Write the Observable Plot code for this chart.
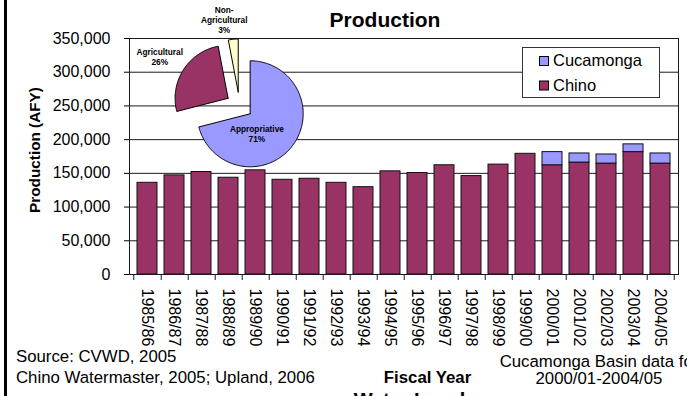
<!DOCTYPE html>
<html><head><meta charset="utf-8">
<script src="https://cdn.jsdelivr.net/npm/d3@7"></script>
<script src="https://cdn.jsdelivr.net/npm/@observablehq/plot@0.6"></script>
<style>
html,body{margin:0;padding:0;background:#fff;}
#wrap{position:relative;width:687px;height:396px;overflow:hidden;font-family:"Liberation Sans",Arial,sans-serif;}
#wrap > svg{position:absolute;}
</style></head><body><div id="wrap"></div>
<script>
// ---- data ----
const years = ["1985/86","1986/87","1987/88","1988/89","1989/90","1990/91","1991/92","1992/93","1993/94","1994/95","1995/96","1996/97","1997/98","1998/99","1999/00","2000/01","2001/02","2002/03","2003/04","2004/05"];
const chino = [136000,147000,152000,143500,154500,140500,142000,136000,129500,153000,150500,162000,146000,163000,179000,162000,166000,164500,181500,164500];
const cucamonga = [null,null,null,null,null,null,null,null,null,null,null,null,null,null,null,19500,13500,13500,11500,15000];
const seriesNames = ["Cucamonga","Chino"];
const yTicks = [0,50000,100000,150000,200000,250000,300000,350000];
const pieCategories = ["Appropriative","Agricultural","Non-Agricultural"];
const pieShares = [71,26,3];
const pieLabels = ["Appropriative\n71%","Agricultural\n26%","Non-\nAgricultural\n3%"];

// ---- layout ----
const W = 687, H = 396;
const M = {left:129, right:9, top:38, bottom:122};
const step = (W - M.left - M.right) / years.length;
const perPx = 350000 / (H - M.top - M.bottom);
const FONT = '"Liberation Sans", Arial, sans-serif';
const colors = {Chino:"#993366", Cucamonga:"#9999FF"};
const pieColors = ["#9999FF","#993366","#FFFFCC"];
const pieLayout = {cx:239.3, cy:105, size:200, R:53, explode:13.5};
// label anchor (page coords): center x, first baseline, line height
const pieLabelPos = [{x:256.7,b:131.5,lh:9.7},{x:159.5,b:54.5,lh:10.3},{x:224,b:12.3,lh:10.3}];

const rows = [];
years.forEach((y,i) => {
  rows.push({year:y, series:"Chino", value:chino[i]});
  if (cucamonga[i] != null) rows.push({year:y, series:"Cucamonga", value:cucamonga[i]});
});

const wrap = document.getElementById("wrap");

const main = Plot.plot({
  width: W, height: H,
  marginLeft: M.left, marginRight: M.right, marginTop: M.top, marginBottom: M.bottom,
  style: {fontFamily: FONT, fontSize: "16px", background: "transparent", color: "#000", overflow: "visible"},
  x: {domain: years, paddingInner: 0.27, paddingOuter: 0.135, label: null, tickSize: 0, tickPadding: 14, tickRotate: 90},
  y: {domain: [0,350000], ticks: yTicks, tickFormat: d3.format(","), label: null, tickSize: 5, tickPadding: 14},
  color: {domain: ["Chino","Cucamonga"], range: [colors.Chino, colors.Cucamonga]},
  marks: [
    Plot.ruleY(yTicks.slice(1), {stroke: "#1a1a1a", strokeWidth: 1}),
    Plot.barY(rows, {x: "year", y: "value", fill: "series", stroke: "#111", strokeWidth: 1}),
    Plot.frame({stroke: "#1a1a1a"}),
    Plot.ruleX(years, {x: d => d, y1: 0, y2: -6 * perPx, dx: step/2, stroke: "#1a1a1a"}),
    Plot.ruleX(years.slice(0,1), {x: d => d, y1: 0, y2: -6 * perPx, dx: -step/2, stroke: "#1a1a1a"})
  ]
});
main.style.left = "0px"; main.style.top = "0px";
wrap.appendChild(main);

// ---- pie ----
const arcs = d3.pie().sort(null)(pieShares);
const pieMarks = [];
arcs.forEach((a, i) => {
  const mid = (a.startAngle + a.endAngle) / 2;
  const ox = pieLayout.explode * Math.sin(mid), oy = -pieLayout.explode * Math.cos(mid);
  const pts = [{x: ox, y: oy}];
  const n = Math.max(4, Math.ceil((a.endAngle - a.startAngle) / (Math.PI/180)));
  for (let k = 0; k <= n; k++) {
    const t = a.startAngle + (a.endAngle - a.startAngle) * k / n;
    pts.push({x: ox + pieLayout.R * Math.sin(t), y: oy - pieLayout.R * Math.cos(t)});
  }
  pts.push({x: ox, y: oy});
  pieMarks.push(Plot.line(pts, {x: "x", y: "y", fill: pieColors[i], stroke: "#000", strokeWidth: 1, curve: "linear"}));
});
const labelRows = [];
pieLabels.forEach((lab, i) => {
  const p = pieLabelPos[i];
  lab.split("\n").forEach((line, j) => {
    labelRows.push({text: line, x: p.x - pieLayout.cx, y: p.b + j * p.lh - pieLayout.cy - 2.7});
  });
});
pieMarks.push(Plot.text(labelRows, {x: "x", y: "y", text: "text", fontWeight: "bold", fontSize: 8.3, fill: "#000", textAnchor: "middle"}));
const half = pieLayout.size / 2;
const pie = Plot.plot({
  width: pieLayout.size, height: pieLayout.size,
  margin: 0, marginLeft: 0, marginRight: 0, marginTop: 0, marginBottom: 0,
  style: {fontFamily: FONT, background: "transparent", overflow: "visible"},
  x: {domain: [-half, half], range: [0, pieLayout.size], axis: null},
  y: {domain: [-half, half], range: [0, pieLayout.size], axis: null},
  marks: pieMarks
});
pie.style.left = (pieLayout.cx - half) + "px";
pie.style.top = (pieLayout.cy - half) + "px";
wrap.appendChild(pie);

// ---- static texts, legend ----
const ns = "http://www.w3.org/2000/svg";
const ov = d3.create("svg").attr("width", W).attr("height", H).style("left","0px").style("top","0px")
  .style("font-family", FONT).style("overflow","hidden");
ov.append("rect").attr("x", 4).attr("y", 0).attr("width", 3).attr("height", H).attr("fill", "#000");
ov.append("text").attr("x", 385).attr("y", 27).attr("text-anchor","middle").attr("font-weight","bold").attr("font-size", 21).text("Production");
ov.append("text").attr("transform","translate(40,150) rotate(-90)").attr("text-anchor","middle").attr("font-weight","bold").attr("font-size", 15.3).text("Production (AFY)");
ov.append("text").attr("x", 16).attr("y", 361.7).attr("font-size", 16.8).text("Source: CVWD, 2005");
ov.append("text").attr("x", 16).attr("y", 383.3).attr("font-size", 16.8).text("Chino Watermaster, 2005; Upland, 2006");
ov.append("text").attr("x", 427.5).attr("y", 383.3).attr("text-anchor","middle").attr("font-weight","bold").attr("font-size", 16.8).text("Fiscal Year");
ov.append("text").attr("x", 599).attr("y", 366.5).attr("text-anchor","middle").attr("font-size", 16.8).text("Cucamonga Basin data for");
ov.append("text").attr("x", 599).attr("y", 384).attr("text-anchor","middle").attr("font-size", 16.8).text("2000/01-2004/05");
ov.append("text").attr("x", 415).attr("y", 407).attr("text-anchor","middle").attr("font-weight","bold").attr("font-size", 20).text("Water Levels");
// legend
const lg = ov.append("g");
lg.append("rect").attr("x", 522.5).attr("y", 47.5).attr("width", 137).attr("height", 50).attr("fill", "#fff").attr("stroke", "#333");
seriesNames.forEach((s, i) => {
  lg.append("rect").attr("x", 539.5).attr("y", 56.5 + i*24.5).attr("width", 9).attr("height", 9).attr("fill", colors[s]).attr("stroke", "#000");
  lg.append("text").attr("x", 553).attr("y", 66 + i*24.5).attr("font-size", 16.5).text(s);
});
wrap.appendChild(ov.node());
</script></body></html>
